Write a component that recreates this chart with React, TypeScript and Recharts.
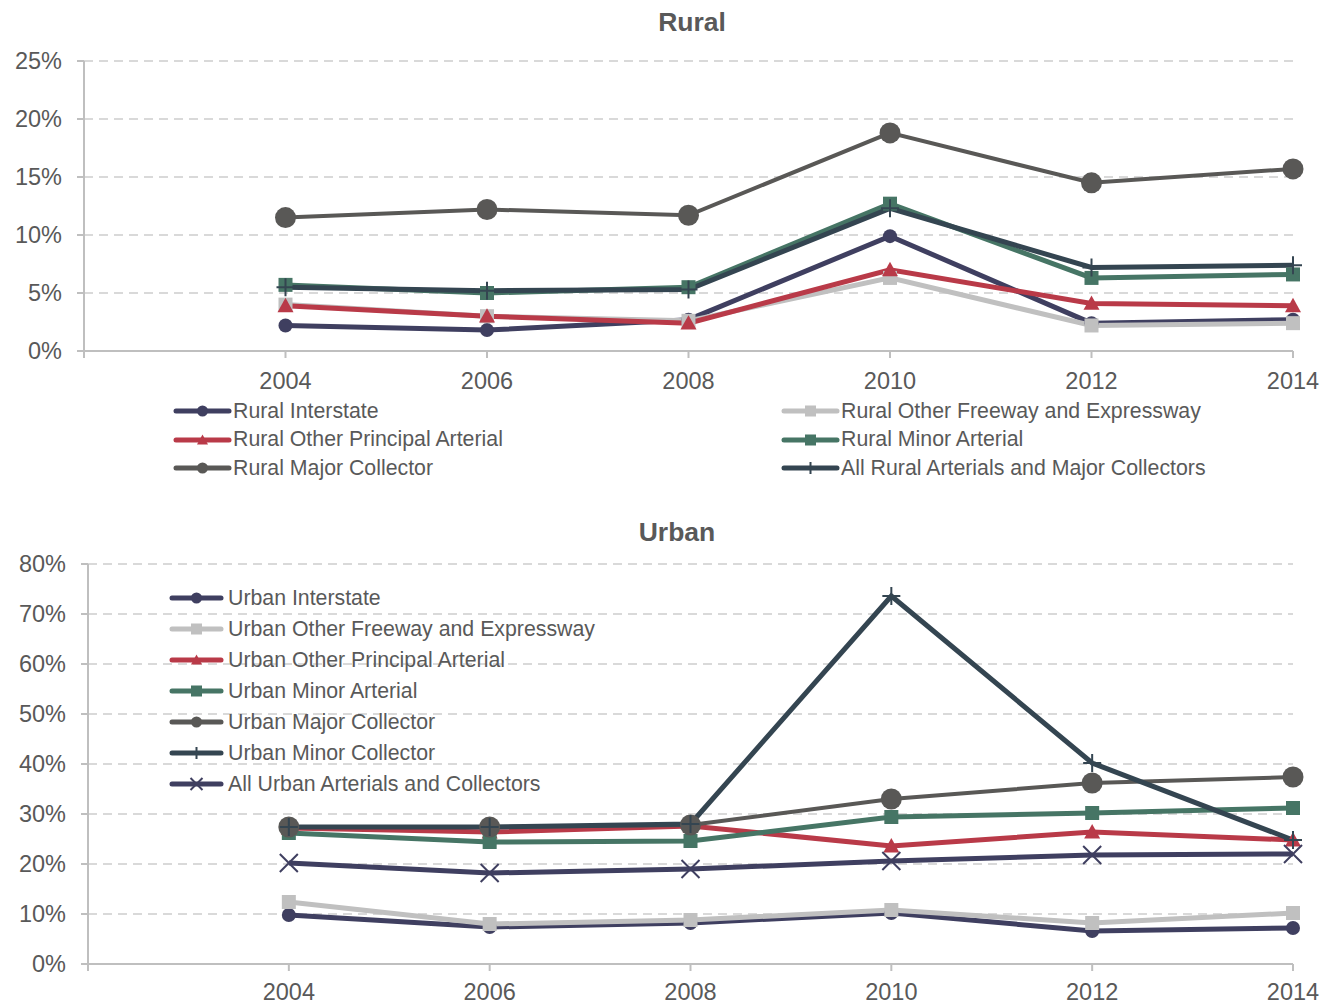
import React from "react";
import { LineChart, Line, XAxis, YAxis, CartesianGrid, Legend } from "recharts";

const years = [2004, 2006, 2008, 2010, 2012, 2014];
const xTicks = [2002, 2004, 2006, 2008, 2010, 2012, 2014];
const ruralTicks = [0, 5, 10, 15, 20, 25];
const urbanTicks = [0, 10, 20, 30, 40, 50, 60, 70, 80];

// rural shares, %
const ruralInterstate = [2.2, 1.8, 2.7, 9.9, 2.4, 2.7];
const ruralOtherFreeway = [4.0, 3.0, 2.6, 6.3, 2.2, 2.4];
const ruralOtherPrincipal = [3.9, 3.0, 2.4, 7.0, 4.1, 3.9];
const ruralMinorArterial = [5.7, 5.0, 5.5, 12.7, 6.3, 6.6];
const ruralMajorCollector = [11.5, 12.2, 11.7, 18.8, 14.5, 15.7];
const ruralAll = [5.5, 5.2, 5.3, 12.3, 7.2, 7.4];

// urban shares, %
const urbanInterstate = [9.8, 7.4, 8.2, 10.2, 6.6, 7.2];
const urbanOtherFreeway = [12.4, 8.0, 8.8, 10.8, 8.2, 10.2];
const urbanOtherPrincipal = [27.2, 26.4, 27.6, 23.6, 26.4, 24.8];
const urbanMinorArterial = [26.2, 24.4, 24.6, 29.4, 30.2, 31.2];
const urbanMajorCollector = [27.4, 27.4, 27.8, 33.0, 36.2, 37.4];
const urbanMinorCollector = [27.4, 27.4, 28.0, 73.6, 40.2, 24.8];
const urbanAll = [20.2, 18.2, 19.0, 20.6, 21.8, 22.0];

const NAVY = "#3f3f60";
const LIGHT = "#c0c0c0";
const RED = "#b93a48";
const GREEN = "#467565";
const DARKGRAY = "#595856";
const SLATE = "#344551";
const TEXT = "#595959";
const AXIS = "#bfbfbf";
const FONT = "'Liberation Sans', Arial, sans-serif";

type Shape = "circle" | "square" | "triangle" | "plus" | "x";

interface Series {
  key: string;
  name: string;
  values: number[];
  color: string;
  shape: Shape;
  size: number;
  width: number;
}

const ruralSeries: Series[] = [
  { key: "ri", name: "Rural Interstate", values: ruralInterstate, color: NAVY, shape: "circle", size: 7, width: 5 },
  { key: "rf", name: "Rural Other Freeway and Expressway", values: ruralOtherFreeway, color: LIGHT, shape: "square", size: 7, width: 5 },
  { key: "rp", name: "Rural Other Principal Arterial", values: ruralOtherPrincipal, color: RED, shape: "triangle", size: 8, width: 5 },
  { key: "rm", name: "Rural Minor Arterial", values: ruralMinorArterial, color: GREEN, shape: "square", size: 7, width: 5 },
  { key: "rc", name: "Rural Major Collector", values: ruralMajorCollector, color: DARKGRAY, shape: "circle", size: 10.5, width: 4 },
  { key: "ra", name: "All Rural Arterials and Major Collectors", values: ruralAll, color: SLATE, shape: "plus", size: 9, width: 5 },
];

const urbanSeries: Series[] = [
  { key: "ui", name: "Urban Interstate", values: urbanInterstate, color: NAVY, shape: "circle", size: 7, width: 5 },
  { key: "uf", name: "Urban Other Freeway and Expressway", values: urbanOtherFreeway, color: LIGHT, shape: "square", size: 7, width: 5 },
  { key: "up", name: "Urban Other Principal Arterial", values: urbanOtherPrincipal, color: RED, shape: "triangle", size: 8, width: 5 },
  { key: "um", name: "Urban Minor Arterial", values: urbanMinorArterial, color: GREEN, shape: "square", size: 7, width: 5 },
  { key: "uc", name: "Urban Major Collector", values: urbanMajorCollector, color: DARKGRAY, shape: "circle", size: 10.5, width: 4 },
  { key: "un", name: "Urban Minor Collector", values: urbanMinorCollector, color: SLATE, shape: "plus", size: 9, width: 5 },
  { key: "ua", name: "All Urban Arterials and Collectors", values: urbanAll, color: NAVY, shape: "x", size: 9, width: 5 },
];

function buildRows(series: Series[]) {
  return years.map((year, i) => {
    const row: Record<string, number> = { year };
    series.forEach((s) => {
      row[s.key] = s.values[i];
    });
    return row;
  });
}

const ruralData = buildRows(ruralSeries);
const urbanData = buildRows(urbanSeries);

function Marker({ shape, cx, cy, color, size }: { shape: Shape; cx: number; cy: number; color: string; size: number }) {
  const s = size;
  switch (shape) {
    case "circle":
      return <circle cx={cx} cy={cy} r={s} fill={color} />;
    case "square":
      return <rect x={cx - s} y={cy - s} width={2 * s} height={2 * s} fill={color} />;
    case "triangle":
      return <polygon points={`${cx},${cy - s} ${cx + s},${cy + s * 0.8} ${cx - s},${cy + s * 0.8}`} fill={color} />;
    case "plus":
      return <path d={`M${cx - s},${cy}H${cx + s}M${cx},${cy - s}V${cy + s}`} stroke={color} strokeWidth={2} fill="none" />;
    case "x":
      return (
        <path
          d={`M${cx - s},${cy - s}L${cx + s},${cy + s}M${cx - s},${cy + s}L${cx + s},${cy - s}`}
          stroke={color}
          strokeWidth={2}
          fill="none"
        />
      );
  }
  return null;
}

function makeLegend(series: Series[], cols: number, colWidth: number, rowH: number, lineW: number, gap: number) {
  return () => (
    <div
      style={{
        display: "grid",
        gridTemplateColumns: `repeat(${cols}, ${colWidth}px)`,
        fontFamily: FONT,
        fontSize: 21.3,
        color: TEXT,
        whiteSpace: "nowrap",
      }}
    >
      {series.map((s) => (
        <div key={s.key} style={{ display: "flex", alignItems: "center", height: rowH }}>
          <svg width={lineW} height={18} style={{ marginRight: gap, flex: "none" }}>
            <line x1={3} y1={9} x2={lineW - 3} y2={9} stroke={s.color} strokeWidth={5} strokeLinecap="round" />
            <Marker shape={s.shape} cx={lineW / 2} cy={9} color={s.color} size={s.shape === "plus" || s.shape === "x" ? 6 : 5.5} />
          </svg>
          <span>{s.name}</span>
        </div>
      ))}
    </div>
  );
}

function renderLines(series: Series[]) {
  return series.map((s) => (
    <Line
      key={s.key}
      type="linear"
      dataKey={s.key}
      name={s.name}
      stroke={s.color}
      strokeWidth={s.width}
      isAnimationActive={false}
      activeDot={false}
      dot={(p: any) => (
        <Marker key={`${s.key}-${p.index}`} shape={s.shape} cx={p.cx} cy={p.cy} color={s.color} size={s.size} />
      )}
    />
  ));
}

const tickStyle = { fill: TEXT, fontSize: 23.5, fontFamily: FONT };
const axisLine = { stroke: AXIS, strokeWidth: 2 };

function Title({ text, x, y }: { text: string; x: number; y: number }) {
  return (
    <div
      style={{
        position: "absolute",
        left: x - 100,
        top: y - 15,
        width: 200,
        textAlign: "center",
        fontFamily: FONT,
        fontWeight: "bold",
        fontSize: 26.5,
        lineHeight: "30px",
        color: TEXT,
      }}
    >
      {text}
    </div>
  );
}

export default function App() {
  return (
    <div style={{ position: "absolute", left: 0, top: 0, width: 1335, height: 1005, background: "#fff" }}>
      <Title text="Rural" x={692} y={22} />
      <div style={{ position: "absolute", left: 0, top: 0 }}>
        <LineChart width={1335} height={490} data={ruralData} margin={{ top: 61, right: 42, left: 0, bottom: 109 }}>
          <CartesianGrid vertical={false} stroke="#d9d9d9" strokeWidth={2} strokeDasharray="9 6" />
          <XAxis
            dataKey="year"
            type="number"
            domain={[2002, 2014]}
            ticks={xTicks}
            tickFormatter={(v) => (v === 2002 ? "" : String(v))}
            height={30}
            tick={tickStyle}
            tickSize={7}
            tickMargin={14}
            axisLine={axisLine}
            tickLine={axisLine}
          />
          <YAxis
            domain={[0, 25]}
            ticks={ruralTicks}
            tickFormatter={(v) => `${v}%`}
            width={84}
            tick={tickStyle}
            tickSize={7}
            tickMargin={15}
            axisLine={axisLine}
            tickLine={axisLine}
          />
          <Legend
            layout="vertical"
            align="center"
            verticalAlign="middle"
            wrapperStyle={{ top: 397, left: 173, width: "auto" }}
            content={makeLegend(ruralSeries, 2, 608, 28.5, 59, 1)}
          />
          {renderLines(ruralSeries)}
        </LineChart>
      </div>

      <Title text="Urban" x={677} y={532} />
      <div style={{ position: "absolute", left: 0, top: 500 }}>
        <LineChart width={1335} height={505} data={urbanData} margin={{ top: 64, right: 42, left: 0, bottom: 11 }}>
          <CartesianGrid vertical={false} stroke="#d9d9d9" strokeWidth={2} strokeDasharray="9 6" />
          <XAxis
            dataKey="year"
            type="number"
            domain={[2002, 2014]}
            ticks={xTicks}
            tickFormatter={(v) => (v === 2002 ? "" : String(v))}
            height={30}
            tick={tickStyle}
            tickSize={7}
            tickMargin={12}
            axisLine={axisLine}
            tickLine={axisLine}
          />
          <YAxis
            domain={[0, 80]}
            ticks={urbanTicks}
            tickFormatter={(v) => `${v}%`}
            width={88}
            tick={tickStyle}
            tickSize={7}
            tickMargin={15}
            axisLine={axisLine}
            tickLine={axisLine}
          />
          <Legend
            layout="vertical"
            align="center"
            verticalAlign="middle"
            wrapperStyle={{ top: 82.5, left: 169, width: "auto" }}
            content={makeLegend(urbanSeries, 1, 500, 31, 55, 4)}
          />
          {renderLines(urbanSeries)}
        </LineChart>
      </div>
    </div>
  );
}
